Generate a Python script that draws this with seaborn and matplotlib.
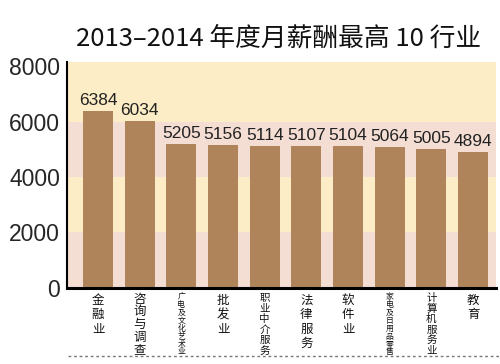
import numpy as np
import pandas as pd
import matplotlib
matplotlib.use("Agg")
import matplotlib.pyplot as plt
import seaborn as sns
from matplotlib.lines import Line2D

# data
industries = ["金融业", "咨询与调查", "广电及文化艺术业", "批发业", "职业中介服务",
              "法律服务", "软件业", "家电及日用品零售", "计算机服务业", "教育"]
salaries = [6384, 6034, 5205, 5156, 5114, 5107, 5104, 5064, 5005, 4894]
y_ticks = [0, 2000, 4000, 6000, 8000]

df = pd.DataFrame({"industry": industries, "salary": salaries})

sns.set_theme(style="white")
plt.rcParams['font.family'] = ['Noto Sans CJK SC', 'DejaVu Sans']

fig = plt.figure(figsize=(5.0, 3.64), dpi=100)
ax = fig.add_axes([0.134, 0.209, 0.858, 0.621])

# alternating background bands
band_colors = ["#f4ddd3", "#fcedc6", "#f4ddd3", "#fcedc6"]
bounds = [0, 2000, 4000, 6000, 8150]
for i, c in enumerate(band_colors):
    ax.axhspan(bounds[i], bounds[i + 1], color=c, zorder=0, lw=0)

sns.barplot(data=df, x="industry", y="salary", color="#b0845a", saturation=1,
            width=0.72, ax=ax, zorder=2, linewidth=0)

for i, v in enumerate(salaries):
    ax.text(i, v + 110, str(v), ha="center", va="bottom", fontsize=12.5,
            family=["Liberation Sans Narrow", "Liberation Sans", "DejaVu Sans"],
            color="#222222")

ax.set_xlim(-0.745, 9.55)
ax.set_ylim(0, 8150)
ax.set_yticks(y_ticks)
ax.set_yticklabels([str(t) for t in y_ticks], fontsize=16.5,
                   family=["Liberation Sans", "DejaVu Sans"])
ax.tick_params(axis="y", length=0, pad=5)
ax.set_xticks(range(len(industries)))
ax.set_xticklabels([])
ax.tick_params(axis="x", length=0)
ax.set_xlabel("")
ax.set_ylabel("")

# vertical category labels, one character per row, squeezed to fit 62 px
for i, name in enumerate(industries):
    pitch = min(14.5, 63.0 / len(name))
    size = min(pitch * 1.0, 12.5) / 1.39
    for j, ch in enumerate(name):
        ax.annotate(ch, xy=(i, 0), xycoords=("data", "axes fraction"),
                    xytext=(0, -5 - pitch * (j + 0.5)), textcoords="offset pixels",
                    ha="center", va="center", fontsize=size, fontweight="medium",
                    color="#111111", annotation_clip=False)

for side in ["top", "right"]:
    ax.spines[side].set_visible(False)
ax.spines["left"].set_color("black")
ax.spines["left"].set_linewidth(1.5)
ax.spines["bottom"].set_color("black")
ax.spines["bottom"].set_linewidth(2.2)

fig.text(0.557, 0.895, "2013–2014 年度月薪酬最高 10 行业", ha="center", va="center",
         fontsize=18.5, fontweight="medium", color="#111111")

# dotted rule under the category labels
fig.add_artist(Line2D([0.135, 1.0], [0.022, 0.022], transform=fig.transFigure,
                      color="#777777", lw=1.0, ls=(0, (2, 2))))

fig.savefig("out.png", dpi=100)
